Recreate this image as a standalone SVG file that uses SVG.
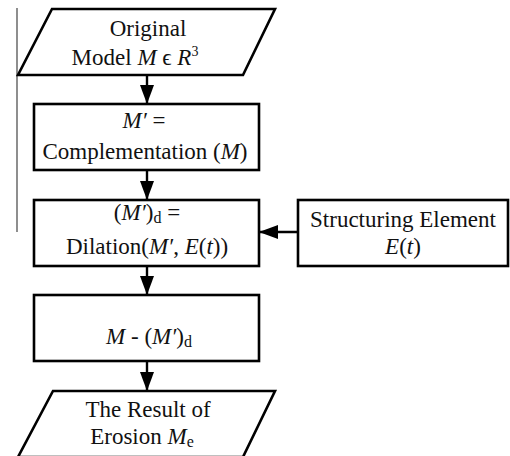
<svg xmlns="http://www.w3.org/2000/svg" width="510" height="456" viewBox="0 0 510 456">
  <style>
    .shape { fill: #ffffff; stroke: #000000; stroke-width: 2.6; stroke-linejoin: miter; }
    .lbl { font-family: "Liberation Serif", "Times New Roman", serif; font-size: 23px; fill: #111111; text-anchor: middle; }
    .it { font-style: italic; }
    .sub { font-size: 16px; }
    .sup { font-size: 14px; }
    .edge { stroke: #000000; stroke-width: 2.4; fill: none; marker-end: url(#head); }
  </style>
  <defs>
    <marker id="head" markerUnits="userSpaceOnUse" markerWidth="19" markerHeight="14" refX="19" refY="7" orient="auto">
      <path d="M0,0 L19,7 L0,14 z" fill="#000000"/>
    </marker>
  </defs>

  <!-- thin rule at the left margin -->
  <line x1="17" y1="8" x2="17" y2="232" stroke="#444444" stroke-width="1.2"/>

  <g id="connectors">
    <line class="edge" x1="147" y1="75" x2="147" y2="104"/>
    <line class="edge" x1="147" y1="170" x2="147" y2="200"/>
    <line class="edge" x1="147" y1="266" x2="147" y2="295"/>
    <line class="edge" x1="147" y1="361" x2="147" y2="391"/>
    <line class="edge" x1="298" y1="232" x2="259" y2="232"/>
  </g>

  <g id="input-model">
    <polygon class="shape" points="52,9 275,9 243,75 18,75"/>
    <text class="lbl" x="148" y="36">Original</text>
    <text class="lbl" x="135" y="65">Model <tspan class="it">M</tspan> ϵ <tspan class="it">R</tspan><tspan class="sup" dy="-9">3</tspan></text>
  </g>

  <g id="complementation">
    <rect class="shape" x="34" y="104" width="225" height="66"/>
    <text class="lbl" x="144" y="128"><tspan class="it">M′</tspan> =</text>
    <text class="lbl" x="145" y="159">Complementation (<tspan class="it">M</tspan>)</text>
  </g>

  <g id="dilation">
    <rect class="shape" x="34" y="200" width="225" height="66"/>
    <text class="lbl" x="147" y="220">(<tspan class="it">M′</tspan>)<tspan class="sub" dy="3">d</tspan><tspan dy="-3"> =</tspan></text>
    <text class="lbl" x="147" y="254">Dilation(<tspan class="it">M′</tspan>, <tspan class="it">E</tspan>(<tspan class="it">t</tspan>))</text>
  </g>

  <g id="structuring-element">
    <rect class="shape" x="298" y="200" width="210" height="66"/>
    <text class="lbl" x="403" y="227">Structuring Element</text>
    <text class="lbl" x="403" y="254"><tspan class="it">E</tspan>(<tspan class="it">t</tspan>)</text>
  </g>

  <g id="difference">
    <rect class="shape" x="34" y="295" width="225" height="66"/>
    <text class="lbl" x="149" y="344"><tspan class="it">M</tspan> - (<tspan class="it">M′</tspan>)<tspan class="sub" dy="3">d</tspan></text>
  </g>

  <g id="erosion-result">
    <polygon class="shape" points="53,391 275,391 243,457 18,457"/>
    <text class="lbl" x="148" y="417">The Result of</text>
    <text class="lbl" x="142" y="444">Erosion <tspan class="it">M</tspan><tspan class="sub" dy="3">e</tspan></text>
  </g>
</svg>
